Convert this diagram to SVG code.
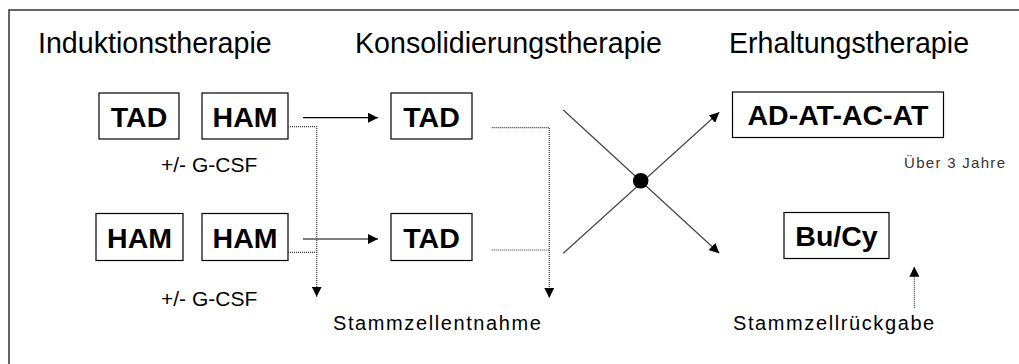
<svg xmlns="http://www.w3.org/2000/svg" width="1019" height="364" viewBox="0 0 1019 364">
  <style>
    .title { font-family: "Liberation Sans", Arial, sans-serif; font-size: 28.6px; fill: #000; }
    .box { fill: #fff; stroke: #000; stroke-width: 1.2; }
    .drug { font-family: "Liberation Sans", Arial, sans-serif; font-size: 28.5px; font-weight: bold; fill: #000; text-anchor: middle; }
    .note { font-family: "Liberation Sans", Arial, sans-serif; font-size: 21px; fill: #000; }
    .label { font-family: "Liberation Sans", Arial, sans-serif; font-size: 20px; fill: #000; letter-spacing: 1.6px; }
    .small { font-family: "Liberation Sans", Arial, sans-serif; font-size: 15px; fill: #333; letter-spacing: 1.3px; }
    .solid { stroke: #000; stroke-width: 1.2; fill: none; }
    .dotted { stroke: #333; stroke-width: 1.2; stroke-dasharray: 1 1; fill: none; }
    .diag { stroke: #444; stroke-width: 1.2; fill: none; }
  </style>
  <defs>
    <marker id="arrow" viewBox="0 0 10 10" refX="10" refY="5" markerWidth="10" markerHeight="10" markerUnits="userSpaceOnUse" orient="auto">
      <path d="M0,0 L10,5 L0,10 Z" fill="#000"/>
    </marker>
  </defs>

  <rect width="1019" height="364" fill="#fff"/>
  <!-- frame (top and left edges) -->
  <path d="M9,364 L9,10 L1019,10" fill="none" stroke="#333" stroke-width="1.5"/>

  <!-- phase headings -->
  <g id="headings">
    <text class="title" x="38" y="52.5">Induktionstherapie</text>
    <text class="title" x="355" y="52.5">Konsolidierungstherapie</text>
    <text class="title" x="729" y="52.5">Erhaltungstherapie</text>
  </g>

  <g id="ind-tad1">
    <rect class="box" x="99" y="93" width="80" height="46"/>
    <text class="drug" x="139" y="126.5">TAD</text>
  </g>
  <g id="ind-ham1">
    <rect class="box" x="202" y="93" width="86" height="46"/>
    <text class="drug" x="245" y="126.5">HAM</text>
  </g>
  <g id="ind-gcsf1">
    <text class="note" x="161" y="172">+/- G-CSF</text>
  </g>
  <g id="ind-ham2a">
    <rect class="box" x="96" y="213.5" width="87" height="47"/>
    <text class="drug" x="139.5" y="248">HAM</text>
  </g>
  <g id="ind-ham2b">
    <rect class="box" x="202" y="213.5" width="86" height="47"/>
    <text class="drug" x="245" y="248">HAM</text>
  </g>
  <g id="ind-gcsf2">
    <text class="note" x="161" y="306">+/- G-CSF</text>
  </g>

  <g id="kons-tad1">
    <rect class="box" x="391" y="93" width="81" height="46"/>
    <text class="drug" x="431.5" y="126.5">TAD</text>
  </g>
  <g id="kons-tad2">
    <rect class="box" x="391" y="213.5" width="81" height="47"/>
    <text class="drug" x="431.5" y="248">TAD</text>
  </g>
  <g id="stammzellentnahme">
    <text class="label" x="333" y="330">Stammzellentnahme</text>
  </g>

  <g id="erh-adatacat">
    <rect class="box" x="732.5" y="92" width="211" height="45.5"/>
    <text class="drug" x="838" y="125">AD-AT-AC-AT</text>
  </g>
  <g id="erh-dauer">
    <text class="small" x="904" y="168">Über 3 Jahre</text>
  </g>
  <g id="erh-bucy">
    <rect class="box" x="784" y="212.5" width="105" height="46"/>
    <text class="drug" x="836.5" y="245.5">Bu/Cy</text>
  </g>
  <g id="stammzellrueckgabe">
    <text class="label" x="733" y="330">Stammzellrückgabe</text>
  </g>

  <!-- connectors -->
  <g id="connectors">
    <line class="solid" x1="303" y1="117.7" x2="378" y2="117.7" marker-end="url(#arrow)"/>
    <line class="solid" x1="303" y1="239" x2="378" y2="239" marker-end="url(#arrow)"/>

    <path class="dotted" d="M288,126.7 H316.7 V296.7" marker-end="url(#arrow)"/>
    <path class="dotted" d="M288,252.3 H316.7"/>

    <path class="dotted" d="M491.7,127.7 H549.3 V298" marker-end="url(#arrow)"/>
    <path class="dotted" d="M491.7,250 H549.3"/>

    <line class="diag" x1="563.3" y1="110" x2="719.3" y2="253.3" marker-end="url(#arrow)"/>
    <line class="diag" x1="563.3" y1="253.3" x2="719.3" y2="112.3" marker-end="url(#arrow)"/>
    <circle cx="640.7" cy="180.7" r="7.8" fill="#000"/>

    <line class="dotted" x1="914.3" y1="308.3" x2="914.3" y2="266.7" marker-end="url(#arrow)"/>
  </g>
</svg>
